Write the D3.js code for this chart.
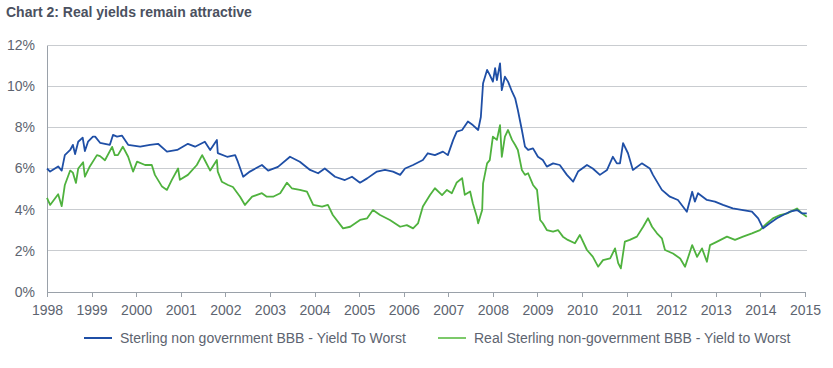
<!DOCTYPE html>
<html>
<head>
<meta charset="utf-8">
<script src="https://cdn.jsdelivr.net/npm/d3@7"></script>
<style>
  html, body { margin: 0; padding: 0; background: #fff; }
  svg { display: block; font-family: "Liberation Sans", Arial, sans-serif; }
</style>
</head>
<body>
<svg id="chart" width="833" height="368"></svg>
<script>
const title = "Chart 2: Real yields remain attractive";
const yearTicks = [1998,1999,2000,2001,2002,2003,2004,2005,2006,2007,2008,2009,2010,2011,2012,2013,2014,2015];
const yTicks = [0,2,4,6,8,10,12];
const seriesNames = ["Sterling non government BBB - Yield To Worst", "Real Sterling non-government BBB - Yield to Worst"];

const sterlingDates = [1998.00,1998.07,1998.25,1998.33,1998.40,1998.52,1998.58,1998.63,1998.70,1998.80,1998.85,1998.92,
  1999.03,1999.08,1999.19,1999.41,1999.48,1999.57,1999.68,1999.82,2000.09,2000.31,2000.49,2000.69,2000.92,
  2001.16,2001.32,2001.54,2001.66,2001.81,2001.83,2002.04,2002.22,2002.28,2002.40,2002.55,2002.82,2002.96,
  2003.18,2003.45,2003.67,2003.90,2004.08,2004.23,2004.46,2004.68,2004.84,2005.02,2005.18,2005.40,2005.58,
  2005.76,2005.92,2006.03,2006.21,2006.43,2006.54,2006.70,2006.88,2006.99,2007.11,2007.19,2007.31,2007.44,
  2007.55,2007.67,2007.73,2007.78,2007.87,2007.93,2008.00,2008.05,2008.09,2008.16,2008.20,2008.27,2008.34,
  2008.43,2008.50,2008.56,2008.65,2008.72,2008.79,2008.90,2009.01,2009.12,2009.21,2009.35,2009.50,2009.66,
  2009.80,2009.91,2010.11,2010.24,2010.40,2010.56,2010.69,2010.78,2010.85,2010.92,2011.03,2011.14,2011.34,
  2011.52,2011.59,2011.79,2011.97,2012.15,2012.35,2012.47,2012.53,2012.60,2012.80,2012.98,2013.16,2013.38,
  2013.61,2013.81,2013.95,2014.06,2014.21,2014.37,2014.51,2014.66,2014.82,2014.93,2015.04];
const sterlingYields = [6.0,5.85,6.1,5.9,6.65,6.9,7.15,6.7,7.3,7.5,6.85,7.3,
  7.55,7.55,7.25,7.15,7.63,7.55,7.6,7.15,7.06,7.15,7.2,6.82,6.9,
  7.2,7.06,7.3,6.9,7.39,6.75,6.57,6.65,6.33,5.6,5.85,6.17,5.9,
  6.08,6.57,6.33,5.93,5.77,6.0,5.6,5.44,5.6,5.31,5.52,5.85,5.93,
  5.85,5.69,6.0,6.17,6.41,6.74,6.65,6.82,6.65,7.39,7.79,7.87,8.28,
  8.11,7.87,8.5,10.14,10.79,10.55,10.22,10.87,10.3,11.11,9.81,10.46,10.22,
  9.73,9.41,8.84,7.87,7.06,6.9,6.98,6.57,6.41,6.09,6.25,6.17,5.69,
  5.36,5.85,6.17,6.0,5.69,5.93,6.57,6.25,6.25,7.23,6.74,5.93,6.25,
  6.0,5.69,4.96,4.63,4.47,3.9,4.87,4.39,4.8,4.47,4.39,4.23,4.06,
  3.98,3.9,3.58,3.09,3.34,3.58,3.74,3.9,3.98,3.82,3.82];

const realDates = [1998.00,1998.07,1998.25,1998.33,1998.40,1998.52,1998.58,1998.65,1998.70,1998.81,1998.85,1998.96,
  1999.12,1999.19,1999.30,1999.46,1999.52,1999.59,1999.70,1999.82,1999.93,2000.02,2000.20,2000.35,2000.42,
  2000.58,2000.69,2000.80,2000.94,2000.98,2001.16,2001.36,2001.48,2001.54,2001.66,2001.81,2001.83,2001.92,
  2002.06,2002.17,2002.33,2002.44,2002.60,2002.82,2002.93,2003.07,2003.23,2003.38,2003.49,2003.67,2003.83,
  2003.97,2004.17,2004.30,2004.41,2004.64,2004.80,2005.02,2005.18,2005.31,2005.47,2005.69,2005.92,2006.07,
  2006.21,2006.32,2006.43,2006.59,2006.70,2006.86,2006.97,2007.08,2007.19,2007.31,2007.37,2007.49,2007.55,
  2007.64,2007.67,2007.76,2007.78,2007.87,2007.93,2008.00,2008.09,2008.16,2008.20,2008.27,2008.34,2008.43,
  2008.50,2008.56,2008.65,2008.72,2008.79,2008.90,2008.99,2009.06,2009.12,2009.21,2009.35,2009.46,2009.57,
  2009.68,2009.84,2009.95,2010.11,2010.24,2010.36,2010.47,2010.63,2010.74,2010.81,2010.87,2010.96,2011.07,
  2011.23,2011.37,2011.48,2011.57,2011.68,2011.79,2011.86,2012.04,2012.20,2012.31,2012.47,2012.58,2012.69,
  2012.80,2012.87,2013.03,2013.25,2013.43,2013.61,2013.81,2013.99,2014.15,2014.28,2014.44,2014.60,2014.82,
  2014.93,2015.04];
const realYields = [4.57,4.23,4.75,4.17,5.2,5.9,5.8,5.3,6.0,6.3,5.6,6.1,
  6.65,6.6,6.4,7.05,6.65,6.65,7.06,6.57,5.85,6.33,6.17,6.17,5.69,
  5.12,4.96,5.45,6.0,5.45,5.69,6.17,6.65,6.4,5.9,6.41,5.85,5.36,
  5.2,5.1,4.63,4.23,4.63,4.8,4.63,4.63,4.8,5.31,5.04,4.96,4.88,
  4.23,4.15,4.23,3.74,3.09,3.17,3.5,3.58,3.98,3.74,3.5,3.17,3.25,
  3.09,3.33,4.15,4.71,5.04,4.71,4.96,4.8,5.32,5.53,4.72,4.88,4.31,
  3.66,3.34,3.98,5.28,6.25,6.41,7.55,7.39,8.11,6.57,7.55,7.87,7.39,
  7.14,6.9,5.93,5.69,5.77,5.2,4.96,3.5,3.34,3.01,2.93,3.01,2.69,
  2.53,2.37,2.77,2.04,1.72,1.23,1.55,1.63,2.12,1.4,1.15,2.45,2.53,
  2.69,3.17,3.58,3.17,2.85,2.61,2.04,1.87,1.63,1.23,2.28,1.71,2.12,
  1.47,2.28,2.45,2.69,2.53,2.69,2.85,3.01,3.34,3.58,3.74,3.82,4.06,
  3.82,3.66];

const colors = { sterling: "#1f4fa6", real: "#4fb23e", realLegend: "#7cc96a" };

const svg = d3.select("#chart");
const plotLeft = 47, plotRight = 805, plotTop = 45, plotBottom = 292;

const x = d3.scaleLinear().domain([1998, 2015]).range([plotLeft, plotRight]);
const y = d3.scaleLinear().domain([0, 12]).range([plotBottom, plotTop]);

// title
svg.append("text")
  .attr("x", 6).attr("y", 17)
  .attr("font-size", 14).attr("font-weight", "bold")
  .attr("fill", "#4b5160")
  .text(title);

// gridlines
svg.append("g").selectAll("line")
  .data(yTicks.filter(d => d > 0))
  .join("line")
  .attr("x1", plotLeft).attr("x2", plotRight + 2)
  .attr("y1", d => y(d)).attr("y2", d => y(d))
  .attr("stroke", "#c9ccd0").attr("stroke-width", 1)
  .attr("shape-rendering", "crispEdges");

// y axis
const yAxis = d3.axisLeft(y).tickValues(yTicks).tickSize(0).tickPadding(12)
  .tickFormat(d => d + "%");
const gy = svg.append("g").attr("transform", `translate(${plotLeft},0)`).call(yAxis);
gy.select(".domain").attr("stroke", "#9aa1a9").attr("shape-rendering", "crispEdges");
gy.selectAll("text").attr("font-size", 14).attr("fill", "#5d6470")
  .attr("font-family", "Liberation Sans, Arial, sans-serif");

// x axis
const xAxis = d3.axisBottom(x).tickValues(yearTicks).tickSize(5).tickSizeOuter(0).tickPadding(8)
  .tickFormat(d3.format("d"));
const gx = svg.append("g").attr("transform", `translate(0,${plotBottom})`).call(xAxis);
gx.select(".domain").attr("stroke", "#9aa1a9").attr("shape-rendering", "crispEdges");
gx.selectAll(".tick line").attr("stroke", "#9aa1a9").attr("shape-rendering", "crispEdges");
gx.selectAll("text").attr("font-size", 14).attr("fill", "#5d6470")
  .attr("font-family", "Liberation Sans, Arial, sans-serif");

// lines
const line = d3.line().x(d => x(d[0])).y(d => y(d[1]));
const realData = realDates.map((d, i) => [d, realYields[i]]);
const sterlingData = sterlingDates.map((d, i) => [d, sterlingYields[i]]);

svg.append("path").datum(realData)
  .attr("d", line).attr("fill", "none")
  .attr("stroke", colors.real).attr("stroke-width", 1.8).attr("stroke-linejoin", "round");
svg.append("path").datum(sterlingData)
  .attr("d", line).attr("fill", "none")
  .attr("stroke", colors.sterling).attr("stroke-width", 1.8).attr("stroke-linejoin", "round");

// legend
const legendItems = [
  { name: seriesNames[0], color: colors.sterling, x: 84 },
  { name: seriesNames[1], color: colors.realLegend, x: 438 }
];
const lg = svg.append("g").selectAll("g").data(legendItems).join("g")
  .attr("transform", d => `translate(${d.x},338)`);
lg.append("line").attr("x1", 0).attr("x2", 28).attr("y1", 0).attr("y2", 0)
  .attr("stroke", d => d.color).attr("stroke-width", 2);
lg.append("text").attr("x", 36).attr("y", 5)
  .attr("font-size", 14).attr("fill", "#5d6470")
  .text(d => d.name);
</script>
</body>
</html>
